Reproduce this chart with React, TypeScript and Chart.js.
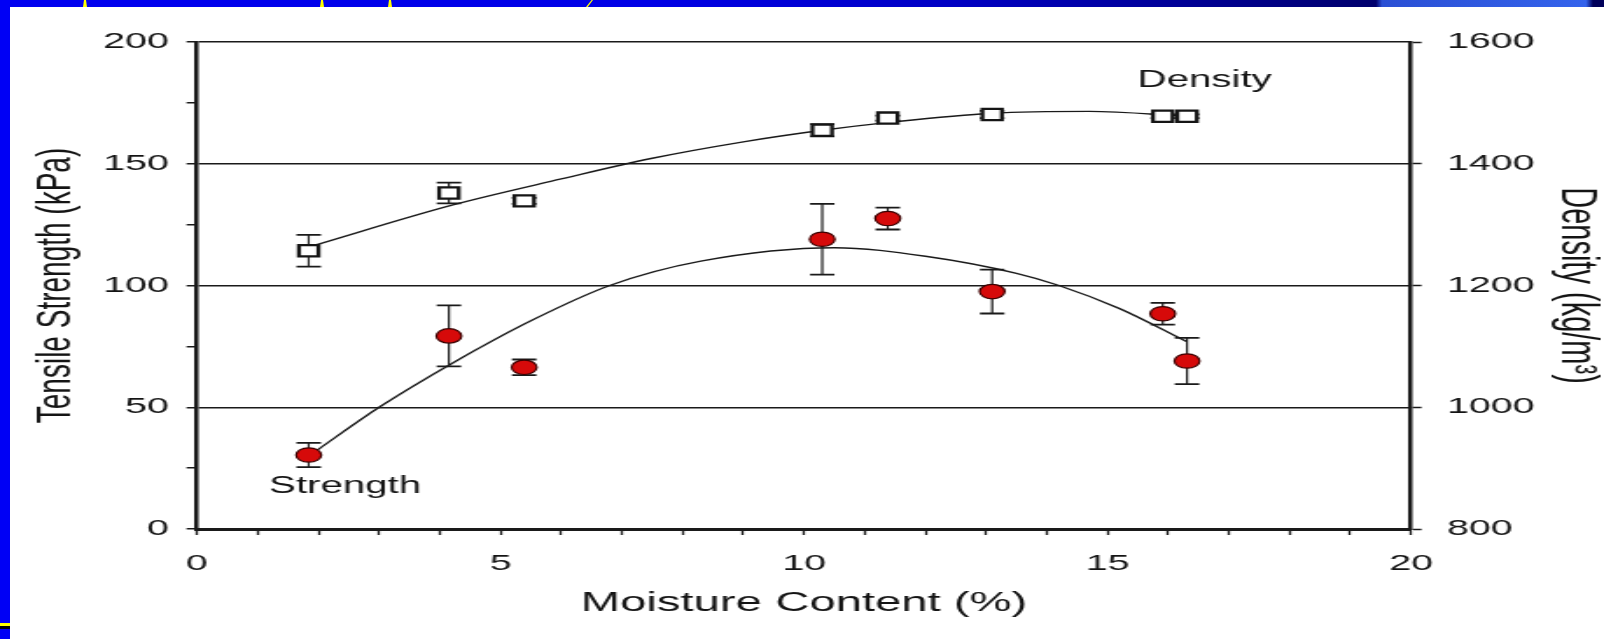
import React, { useEffect, useRef } from 'react';
import { Chart, registerables } from 'chart.js';

Chart.register(...registerables);

// ---------- data ----------
const moisture = [1.84, 4.15, 5.39, 10.3, 11.38, 13.1, 15.91, 16.31];
const strength = [30.4, 79.3, 66.4, 119, 127.5, 97.5, 88.4, 69];
const strengthErr = [5, 12.5, 3.2, 14.5, 4.5, 9, 4.5, 9.5];
const density = [1257, 1352, 1339, 1455, 1475, 1481, 1478, 1478];
const densityErr = [26, 17, 5, 10, 4, 6, 3, 3];

// fitted curves at several moisture values
const strengthFitX = [1.9, 3.0, 4.2, 5.5, 6.8, 8.3, 10.5, 12.0, 13.5, 14.2, 15.2, 16.3];
const strengthFitY = [31, 50, 68, 85.5, 100, 110, 115.5, 112, 105, 100, 90.5, 77];
const densityFitX = [1.9, 4.2, 6.0, 7.5, 9.0, 10.3, 11.4, 13.1, 14.7, 16.3];
const densityFitY = [1265, 1332, 1375, 1409, 1436, 1455, 1468, 1483, 1486, 1478];

// axis ticks
const xMajorTicks = [0, 5, 10, 15, 20];
const strengthMajorTicks = [0, 50, 100, 150, 200];
const densityTicks = [800, 1000, 1200, 1400, 1600];

// series name labels (data coordinates)
const strengthLabel = { text: 'Strength', x: 2.44, y: 17.2 };
const densityLabel = { text: 'Density', x: 16.6, y: 1536 };

// ---------- layout ----------
const PAGE_W = 1604;
const PAGE_H = 639;
const CANVAS_W = 917; // the figure is horizontally stretched
const SX = PAGE_W / CANVAS_W;
const PLOT_LEFT = 197 / SX;
const PLOT_RIGHT = 1411 / SX;
const PLOT_TOP = 42;
const PLOT_BOTTOM = 529;

const FONT = "'Liberation Sans', Arial, Helvetica, sans-serif";
const TEXT = '#141414';
const INK = '#1a1a1a';

const errorBarsPlugin = {
  id: 'errorBars',
  beforeDatasetsDraw(chart: any) {
    const ctx = chart.ctx;
    const xs = chart.scales.x;
    const cap = 7;
    const draw = (vals: number[], errs: number[], scale: any) => {
      moisture.forEach((m, i) => {
        const px = xs.getPixelForValue(m);
        const top = scale.getPixelForValue(vals[i] + errs[i]);
        const bot = scale.getPixelForValue(vals[i] - errs[i]);
        ctx.beginPath();
        ctx.lineWidth = 1.2;
        ctx.moveTo(px, top);
        ctx.lineTo(px, bot);
        ctx.stroke();
        ctx.beginPath();
        ctx.lineWidth = 1.8;
        ctx.moveTo(px - cap, top);
        ctx.lineTo(px + cap, top);
        ctx.moveTo(px - cap, bot);
        ctx.lineTo(px + cap, bot);
        ctx.stroke();
      });
    };
    ctx.save();
    ctx.strokeStyle = INK;
    draw(strength, strengthErr, chart.scales.y);
    draw(density, densityErr, chart.scales.y2);
    ctx.restore();
  },
};

const seriesLabelPlugin = {
  id: 'seriesLabels',
  afterDatasetsDraw(chart: any) {
    const ctx = chart.ctx;
    const xs = chart.scales.x;
    ctx.save();
    ctx.fillStyle = TEXT;
    ctx.font = `23px ${FONT}`;
    ctx.textAlign = 'center';
    ctx.textBaseline = 'middle';
    ctx.fillText(strengthLabel.text, xs.getPixelForValue(strengthLabel.x), chart.scales.y.getPixelForValue(strengthLabel.y));
    ctx.fillText(densityLabel.text, xs.getPixelForValue(densityLabel.x), chart.scales.y2.getPixelForValue(densityLabel.y));
    ctx.restore();
  },
};

export default function App() {
  const canvasRef = useRef<HTMLCanvasElement | null>(null);

  useEffect(() => {
    const canvas = canvasRef.current;
    if (!canvas) return;
    const tickFont = { family: FONT, size: 22.5 };

    const chart = new Chart(canvas, {
      type: 'scatter',
      data: {
        datasets: [
          {
            label: 'Strength',
            data: moisture.map((m, i) => ({ x: m, y: strength[i] })),
            yAxisID: 'y',
            showLine: false,
            pointStyle: 'circle',
            pointRadius: 7.2,
            pointBackgroundColor: '#d60a0a',
            pointBorderColor: '#3a0000',
            pointBorderWidth: 1.2,
          },
          {
            label: 'Density',
            data: moisture.map((m, i) => ({ x: m, y: density[i] })),
            yAxisID: 'y2',
            showLine: false,
            pointStyle: 'rect',
            pointRadius: 7.9,
            pointBackgroundColor: '#ffffff',
            pointBorderColor: '#151515',
            pointBorderWidth: 2.3,
          },
          {
            label: 'Strength fit',
            data: strengthFitX.map((m, i) => ({ x: m, y: strengthFitY[i] })),
            yAxisID: 'y',
            showLine: true,
            pointRadius: 0,
            borderColor: INK,
            borderWidth: 1.4,
            cubicInterpolationMode: 'monotone',
            fill: false,
          },
          {
            label: 'Density fit',
            data: densityFitX.map((m, i) => ({ x: m, y: densityFitY[i] })),
            yAxisID: 'y2',
            showLine: true,
            pointRadius: 0,
            borderColor: INK,
            borderWidth: 1.4,
            cubicInterpolationMode: 'monotone',
            fill: false,
          },
        ],
      } as any,
      options: {
        animation: false,
        responsive: false,
        devicePixelRatio: 1,
        events: [],
        layout: { padding: { top: PLOT_TOP, left: 0, right: 0, bottom: 0 } },
        plugins: {
          legend: { display: false },
          tooltip: { enabled: false },
          title: { display: false },
        },
        scales: {
          x: {
            type: 'linear',
            position: 'bottom',
            min: 0,
            max: 20,
            afterFit: (s: any) => {
              s.height = PAGE_H - PLOT_BOTTOM;
            },
            ticks: {
              stepSize: 1,
              autoSkip: false,
              maxRotation: 0,
              minRotation: 0,
              padding: 15,
              color: TEXT,
              font: tickFont,
              callback: (v: any) => (xMajorTicks.includes(Number(v)) ? String(v) : ''),
            },
            grid: {
              drawOnChartArea: false,
              drawTicks: true,
              tickLength: 6,
              tickColor: INK,
              tickWidth: 1.3,
              color: INK,
            },
            border: { display: true, color: INK, width: 3 },
            title: {
              display: true,
              text: 'Moisture Content (%)',
              color: TEXT,
              font: { family: FONT, size: 27 },
              padding: { top: 0, bottom: 19 },
            },
          },
          y: {
            type: 'linear',
            position: 'left',
            min: 0,
            max: 200,
            afterFit: (s: any) => {
              s.width = PLOT_LEFT;
            },
            ticks: {
              stepSize: 25,
              autoSkip: false,
              padding: 10,
              color: TEXT,
              font: tickFont,
              callback: (v: any) => (strengthMajorTicks.includes(Number(v)) ? String(v) : ''),
            },
            grid: {
              drawOnChartArea: true,
              drawTicks: true,
              tickLength: 6,
              tickColor: INK,
              tickWidth: 1.5,
              lineWidth: 1.5,
              color: (ctx: any) => {
                const v = ctx.tick ? ctx.tick.value : -1;
                return strengthMajorTicks.includes(v) && v !== 0 ? INK : 'rgba(0,0,0,0)';
              },
            },
            border: { display: true, color: INK, width: 2.5 },
            title: {
              display: true,
              text: 'Tensile Strength (kPa)',
              color: TEXT,
              font: { family: FONT, size: 28 },
              padding: { top: 15.8, bottom: 0 },
            },
          },
          y2: {
            type: 'linear',
            position: 'right',
            min: 800,
            max: 1600,
            afterFit: (s: any) => {
              s.width = CANVAS_W - PLOT_RIGHT;
            },
            ticks: {
              stepSize: 200,
              autoSkip: false,
              padding: 14.5,
              color: TEXT,
              font: tickFont,
              callback: (v: any) => (densityTicks.includes(Number(v)) ? String(v) : ''),
            },
            grid: {
              drawOnChartArea: false,
              drawTicks: true,
              tickLength: 6,
              tickColor: INK,
              tickWidth: 1.5,
              color: INK,
            },
            border: { display: true, color: INK, width: 2.5 },
            title: {
              display: true,
              text: 'Density (kg/m³)',
              color: TEXT,
              font: { family: FONT, size: 29, lineHeight: 1 },
              padding: { top: 2, bottom: 0 },
            },
          },
        },
      } as any,
      plugins: [errorBarsPlugin, seriesLabelPlugin],
    });

    return () => chart.destroy();
  }, []);

  const yellowTick = (x: number) => (
    <div
      key={x}
      style={{
        position: 'absolute',
        left: x - 2,
        top: 0,
        width: 4,
        height: 7,
        background: '#ffff00',
        clipPath: 'polygon(25% 0, 75% 0, 100% 100%, 0 100%)',
      }}
    />
  );

  return (
    <div
      style={{
        position: 'fixed',
        left: 0,
        top: 0,
        width: PAGE_W,
        height: PAGE_H,
        background: '#ffffff',
        overflow: 'hidden',
      }}
    >
      <canvas
        ref={canvasRef}
        width={CANVAS_W}
        height={PAGE_H}
        style={{ position: 'absolute', left: 0, top: 0, width: `${PAGE_W}px`, height: `${PAGE_H}px`, display: 'block' }}
      />
      <div
        style={{
          position: 'absolute',
          left: 0,
          top: 0,
          width: PAGE_W,
          height: 7,
          background:
            'linear-gradient(to right, #0000f0 0px, #0000e6 650px, #0000c4 950px, #000088 1250px, #00006c 1376px, #2a4fd4 1382px, #3463ec 1586px, #00005a 1593px)',
        }}
      />
      {[85, 322, 390].map(yellowTick)}
      <div
        style={{
          position: 'absolute',
          left: 586,
          top: 0,
          width: 7,
          height: 7,
          background: '#ffff00',
          clipPath: 'polygon(80% 0, 100% 0, 25% 100%, 0 100%)',
        }}
      />
      <div style={{ position: 'absolute', left: 0, top: 0, width: 10, height: PAGE_H, background: '#0000f5' }} />
      <div style={{ position: 'absolute', left: 0, top: 623, width: 10, height: 3, background: '#ffff00' }} />
      <div style={{ position: 'absolute', left: 0, top: 626, width: 10, height: 3, background: '#000000' }} />
    </div>
  );
}
